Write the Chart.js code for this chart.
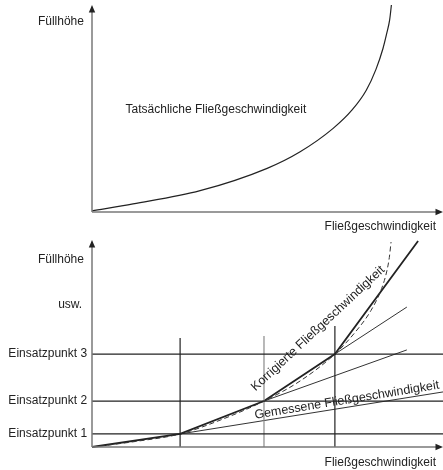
<!DOCTYPE html>
<html><head><meta charset="utf-8">
<script src="https://cdn.jsdelivr.net/npm/chart.js@4.4.0/dist/chart.umd.min.js"></script>
<style>
html,body{margin:0;padding:0;background:#fff;width:443px;height:470px;overflow:hidden}
canvas{display:block}
</style></head><body>
<canvas id="topChart" width="443" height="235" style="width:443px;height:235px"></canvas>
<canvas id="bottomChart" width="443" height="235" style="width:443px;height:235px"></canvas>
<script>
// ---------- data (axis units 0..10) ----------
const axisTitleY = 'Füllhöhe';
const axisTitleX = 'Fließgeschwindigkeit';

// top panel: actual flow velocity curve
const actualLabel = 'Tatsächliche Fließgeschwindigkeit';
const actualX = [0, 1.17, 3.08, 4.99, 5.93, 6.87, 7.41, 7.81, 8.09, 8.29, 8.40, 8.48, 8.53];
const actualY = [0.05, 0.39, 1.03, 2.11, 2.91, 4.04, 4.93, 5.87, 6.89, 7.90, 8.65, 9.28, 10];

// bottom panel: set points (Einsatzpunkte)
const einsatzLabels = ['Einsatzpunkt 1', 'Einsatzpunkt 2', 'Einsatzpunkt 3'];
const einsatzX = [2.51, 4.90, 6.92];
const einsatzY = [0.63, 2.22, 4.49];
const verticalTop = [5.27, 5.36, 5.85];
const moreLabel = 'usw.';

// corrected flow velocity (piecewise line)
const korrLabel = 'Korrigierte Fließgeschwindigkeit';
const korrX = [0, 2.51, 4.90, 6.92, 9.29];
const korrY = [0, 0.63, 2.22, 4.49, 9.95];

// true curve shown dashed
const dashX = [0, 1.25, 2.51, 3.70, 4.90, 5.93, 6.92, 7.50, 7.95, 8.25, 8.40, 8.47, 8.52];
const dashY = [0, 0.27, 0.63, 1.33, 2.22, 3.19, 4.49, 5.55, 6.60, 7.65, 8.50, 9.15, 9.90];

// measured flow velocity extension lines (start / end)
const gemLabel = 'Gemessene Fließgeschwindigkeit';
const measStartX = [2.51, 4.90, 6.92];
const measStartY = [0.63, 2.22, 4.49];
const measEndX = [10, 8.97, 8.97];
const measEndY = [2.66, 4.69, 6.76];

// ---------- helpers ----------
const pts = (xs, ys) => xs.map((x, i) => ({x, y: ys[i]}));
const FONT = '12px "Liberation Sans", Arial, sans-serif';
const INK = '#222';

const axesPlugin = {
  id: 'axesPlugin',
  afterDatasetsDraw(chart) {
    const {ctx, scales: {x: xs, y: ys}} = chart;
    const x0 = xs.getPixelForValue(0), y0 = ys.getPixelForValue(0);
    const xE = xs.getPixelForValue(10), yE = ys.getPixelForValue(10);
    ctx.save();
    ctx.strokeStyle = '#7a7a7a';
    ctx.lineWidth = 1.5;
    ctx.beginPath();
    ctx.moveTo(x0, y0); ctx.lineTo(x0, yE + 5);
    ctx.moveTo(x0, y0); ctx.lineTo(xE - 5, y0);
    ctx.stroke();
    ctx.fillStyle = INK;
    ctx.beginPath();
    ctx.moveTo(x0, yE); ctx.lineTo(x0 - 3.2, yE + 7.5); ctx.lineTo(x0 + 3.2, yE + 7.5); ctx.closePath();
    ctx.fill();
    ctx.beginPath();
    ctx.moveTo(xE, y0); ctx.lineTo(xE - 7.5, y0 - 3.2); ctx.lineTo(xE - 7.5, y0 + 3.2); ctx.closePath();
    ctx.fill();
    // texts
    const notes = chart.options.plugins.axesPlugin.notes || [];
    notes.forEach(n => {
      ctx.save();
      ctx.font = n.font || FONT;
      ctx.fillStyle = INK;
      ctx.textAlign = n.align || 'center';
      ctx.textBaseline = 'middle';
      ctx.translate(xs.getPixelForValue(n.x), ys.getPixelForValue(n.y));
      if (n.rot) ctx.rotate(n.rot * Math.PI / 180);
      ctx.fillText(n.text, 0, 0);
      ctx.restore();
    });
    ctx.restore();
  }
};

function baseOptions(notes) {
  return {
    responsive: false,
    animation: false,
    devicePixelRatio: 1,
    layout: {padding: {left: 92, right: 0, top: 5, bottom: 23}},
    scales: {
      x: {type: 'linear', min: 0, max: 10, display: false},
      y: {type: 'linear', min: 0, max: 10, display: false}
    },
    elements: {point: {radius: 0}},
    plugins: {legend: {display: false}, tooltip: {enabled: false}, axesPlugin: {notes}}
  };
}

// ---------- top chart ----------
new Chart(document.getElementById('topChart'), {
  type: 'line',
  data: {datasets: [{
    label: actualLabel, data: pts(actualX, actualY),
    borderColor: INK, borderWidth: 1.2, cubicInterpolationMode: 'monotone', clip: false
  }]},
  options: baseOptions([
    {text: axisTitleY, x: -0.23, y: 9.19, align: 'right'},
    {text: axisTitleX, x: 9.80, y: -0.71, align: 'right'},
    {text: actualLabel, x: 3.53, y: 4.93}
  ]),
  plugins: [axesPlugin]
});

// ---------- bottom chart ----------
const bottomSets = [];
einsatzY.forEach((y, i) => bottomSets.push({
  label: einsatzLabels[i], data: pts([0, 10], [y, y]), borderColor: INK, borderWidth: 1.2
}));
einsatzX.forEach((x, i) => bottomSets.push({
  label: 'v' + (i + 1), data: pts([x, x], [0, verticalTop[i]]),
  borderColor: i === 1 ? '#8a8a8a' : INK, borderWidth: 1.2
}));
measStartX.forEach((x, i) => bottomSets.push({
  label: gemLabel + ' ' + (i + 1), data: pts([x, measEndX[i]], [measStartY[i], measEndY[i]]),
  borderColor: '#333', borderWidth: 1
}));
bottomSets.push({
  label: 'dashed', data: pts(dashX, dashY), borderColor: '#333', borderWidth: 1,
  borderDash: [5, 3], cubicInterpolationMode: 'monotone', clip: false
});
bottomSets.push({
  label: korrLabel, data: pts(korrX, korrY), borderColor: INK, borderWidth: 1.8, clip: false
});

const bottomNotes = [
  {text: axisTitleY, x: -0.23, y: 9.07, align: 'right'},
  {text: moreLabel, x: -0.28, y: 6.86, align: 'right'},
  {text: axisTitleX, x: 9.80, y: -0.76, align: 'right'},
  {text: korrLabel, x: 6.44, y: 5.72, rot: -43, font: '12.5px "Liberation Sans", Arial, sans-serif'},
  {text: gemLabel, x: 7.26, y: 2.26, rot: -9.3, font: '12.5px "Liberation Sans", Arial, sans-serif'}
];
einsatzLabels.forEach((t, i) => bottomNotes.push({text: t, x: -0.14, y: einsatzY[i], align: 'right'}));

new Chart(document.getElementById('bottomChart'), {
  type: 'line',
  data: {datasets: bottomSets},
  options: baseOptions(bottomNotes),
  plugins: [axesPlugin]
});
</script>
</body></html>
